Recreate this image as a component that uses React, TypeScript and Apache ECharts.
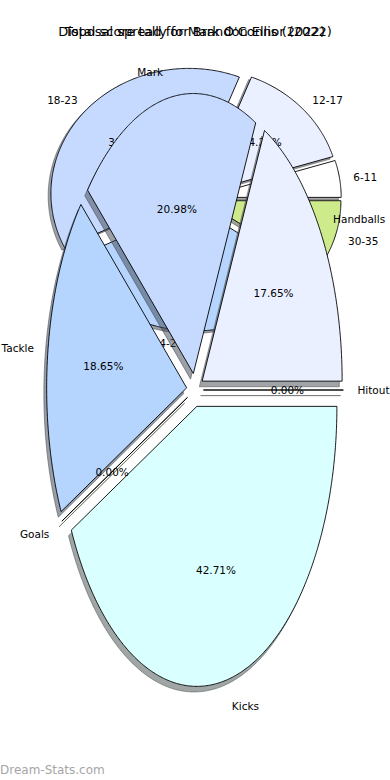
import React, { useEffect, useRef } from "react";
import * as echarts from "echarts";

// ---- Figure 1 (drawn underneath): score tally ----
const scoreTitle = "Total score tally for Brandon Ellis (2022)";
const scoreCategories = ["6-11", "12-17", "18-23", "24-29", "30-35"];
const scoreCounts = [1, 3, 8, 7, 2];
const scoreColors = ["#FFFFFF", "#EAF0FF", "#C6DAFF", "#B5D5FF", "#CEEB8B"];

// ---- Figure 2 (drawn on top): disposal spread ----
const disposalTitle = "Disposal spread for Mark O'Connor (2022)";
const disposalCategories = ["Handballs", "Mark", "Tackle", "Goals", "Kicks", "Hitout"];
const disposalValues = [17.65, 20.98, 18.65, 0, 42.71, 0];
const disposalColors = ["#EAF0FF", "#C6DAFF", "#B5D5FF", "#CEEB8B", "#DAFFFF", "#F2F2F2"];

const watermark = "Dream-Stats.com";

const EXPLODE = 0.06;
const FONT = "DejaVu Sans";

type Geom = { t1: number; t2: number; mid: number; frac: number };

function geoms(values: number[]): Geom[] {
  const total = values.reduce((a, b) => a + b, 0);
  let acc = 0;
  return values.map((v) => {
    const t1 = (acc / total) * 360;
    acc += v;
    const t2 = (acc / total) * 360;
    return { t1, t2, mid: (t1 + t2) / 2, frac: v / total };
  });
}

function shadowColor(hex: string) {
  const h = hex.replace("#", "");
  const r = Math.round(parseInt(h.slice(0, 2), 16) * 0.3);
  const g = Math.round(parseInt(h.slice(2, 4), 16) * 0.3);
  const b = Math.round(parseInt(h.slice(4, 6), 16) * 0.3);
  return `rgb(${r},${g},${b})`;
}

function buildPieSeries(
  values: number[],
  categories: string[],
  colors: string[],
  gridIdx: number,
  zBase: number
) {
  const gs = geoms(values);
  const data = values.map((v) => [0, 0, v]);
  const wedge = (shadow: boolean) => (params: any, api: any) => {
    const g = gs[params.dataIndex];
    const m = (g.mid * Math.PI) / 180;
    const cx = EXPLODE * Math.cos(m) + (shadow ? -0.02 : 0);
    const cy = EXPLODE * Math.sin(m) + (shadow ? -0.02 : 0);
    const pts: number[][] = [api.coord([cx, cy])];
    const n = Math.max(1, Math.ceil((g.t2 - g.t1) / 0.5));
    for (let k = 0; k <= n; k++) {
      const a = ((g.t1 + ((g.t2 - g.t1) * k) / n) * Math.PI) / 180;
      pts.push(api.coord([cx + Math.cos(a), cy + Math.sin(a)]));
    }
    const col = colors[params.dataIndex];
    return {
      type: "polygon",
      shape: { points: pts },
      style: shadow
        ? { fill: shadowColor(col), stroke: shadowColor(col), lineWidth: 1, opacity: 0.5 }
        : { fill: col, stroke: "#000", lineWidth: 0.9, lineJoin: "miter" },
    };
  };
  const labels = (params: any, api: any) => {
    const i = params.dataIndex;
    const g = gs[i];
    const m = (g.mid * Math.PI) / 180;
    const ex = EXPLODE * Math.cos(m);
    const ey = EXPLODE * Math.sin(m);
    const lx = ex + 1.1 * Math.cos(m);
    const ly = ey + 1.1 * Math.sin(m);
    const p = api.coord([lx, ly]);
    const q = api.coord([ex + 0.6 * Math.cos(m), ey + 0.6 * Math.sin(m)]);
    return {
      type: "group",
      children: [
        {
          type: "text",
          x: p[0],
          y: p[1],
          style: {
            text: categories[i],
            align: lx > 0 ? "left" : "right",
            verticalAlign: "middle",
            fill: "#000",
            fontSize: 10.5,
            fontFamily: FONT,
          },
        },
        {
          type: "text",
          x: q[0],
          y: q[1],
          style: {
            text: (g.frac * 100).toFixed(2) + "%",
            align: "center",
            verticalAlign: "middle",
            fill: "#000",
            fontSize: 10.5,
            fontFamily: FONT,
          },
        },
      ],
    };
  };
  const common = {
    type: "custom",
    coordinateSystem: "cartesian2d",
    xAxisIndex: gridIdx,
    yAxisIndex: gridIdx,
    encode: { x: 0, y: 1 },
    data,
    silent: true,
    clip: false,
  };
  return [
    { ...common, z: zBase, renderItem: wedge(true) },
    { ...common, z: zBase + 1, renderItem: wedge(false) },
    { ...common, z: zBase + 2, renderItem: labels },
  ];
}

export default function App() {
  const ref = useRef<HTMLDivElement>(null);
  useEffect(() => {
    document.body.style.margin = "0";
    if (!ref.current) return;
    const chart = echarts.init(ref.current, undefined, { renderer: "svg" });
    const axisBase = { type: "value", min: -1, max: 1, show: false };
    chart.setOption({
      animation: false,
      backgroundColor: "#FFFFFF",
      grid: [
        { left: 57, top: 73.5, width: 276, height: 250 },
        { left: 55, top: 110, width: 280, height: 560 },
      ],
      xAxis: [
        { ...axisBase, gridIndex: 0 },
        { ...axisBase, gridIndex: 1 },
      ],
      yAxis: [
        { ...axisBase, gridIndex: 0 },
        { ...axisBase, gridIndex: 1 },
      ],
      graphic: [
        {
          type: "text",
          x: 195,
          y: 31,
          z: 0,
          style: {
            text: scoreTitle,
            align: "center",
            verticalAlign: "middle",
            fill: "#000",
            fontSize: 13,
            fontFamily: FONT,
          },
        },
        {
          type: "text",
          x: 195,
          y: 31,
          z: 0,
          style: {
            text: disposalTitle,
            align: "center",
            verticalAlign: "middle",
            fill: "#000",
            fontSize: 13,
            fontFamily: FONT,
          },
        },
        {
          type: "text",
          x: 0,
          y: 770,
          style: {
            text: watermark,
            align: "left",
            verticalAlign: "middle",
            fill: "#A6A6A6",
            fontSize: 12,
            fontFamily: FONT,
          },
        },
      ],
      series: [
        ...buildPieSeries(scoreCounts, scoreCategories, scoreColors, 0, 1),
        ...buildPieSeries(disposalValues, disposalCategories, disposalColors, 1, 4),
      ],
    });
    return () => chart.dispose();
  }, []);
  return <div ref={ref} style={{ width: 390, height: 780 }} />;
}
